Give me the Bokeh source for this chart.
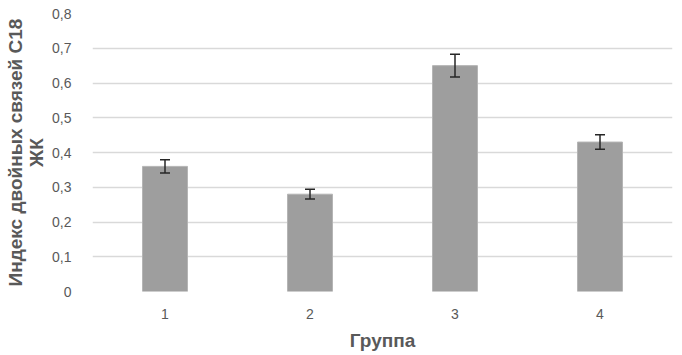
from bokeh.plotting import figure
from bokeh.models import ColumnDataSource, Whisker, FixedTicker, Range1d
from bokeh.embed import file_html
from bokeh.resources import INLINE

groups = [1, 2, 3, 4]
group_labels = ["1", "2", "3", "4"]
values = [0.36, 0.28, 0.65, 0.43]
errors = [0.019, 0.014, 0.033, 0.021]
y_ticks = [0, 0.1, 0.2, 0.3, 0.4, 0.5, 0.6, 0.7, 0.8]
y_tick_labels = ["0", "0,1", "0,2", "0,3", "0,4", "0,5", "0,6", "0,7", "0,8"]

src = ColumnDataSource(dict(
    x=groups, top=values,
    upper=[v + e for v, e in zip(values, errors)],
    lower=[v - e for v, e in zip(values, errors)],
))

p = figure(width=682, height=355, output_backend="svg", toolbar_location=None,
           x_range=Range1d(0.5, 4.5), y_range=Range1d(0, 0.8),
           min_border_left=92, min_border_right=10, min_border_top=13, min_border_bottom=64)
p.outline_line_color = None
p.background_fill_color = "white"

p.vbar(x="x", top="top", width=0.31, source=src, fill_color="#9e9e9e",
       line_color="#b4b4b4", line_width=1)
w = Whisker(base="x", upper="upper", lower="lower", source=src,
            line_color="#262626", line_width=1.5, level="overlay")
w.upper_head.size = 10
w.lower_head.size = 10
w.upper_head.line_color = "#262626"
w.lower_head.line_color = "#262626"
w.upper_head.line_width = 1.5
w.lower_head.line_width = 1.5
p.add_layout(w)

p.xgrid.grid_line_color = None
p.ygrid.grid_line_color = "#d9d9d9"
p.ygrid.grid_line_width = 1.5
p.ygrid.ticker = FixedTicker(ticks=y_ticks)

p.yaxis.ticker = FixedTicker(ticks=y_ticks)
p.yaxis.major_label_overrides = {t: l for t, l in zip(y_ticks, y_tick_labels)}
p.xaxis.ticker = FixedTicker(ticks=groups)
p.xaxis.major_label_overrides = {g: l for g, l in zip(groups, group_labels)}

for ax in (p.xaxis[0], p.yaxis[0]):
    ax.axis_line_color = None
    ax.major_tick_line_color = None
    ax.minor_tick_line_color = None
    ax.major_label_text_font = "Liberation Sans"
    ax.major_label_text_font_size = "14px"
    ax.major_label_text_color = "#595959"
    ax.axis_label_text_font = "Liberation Sans"
    ax.axis_label_text_font_style = "bold"
    ax.axis_label_text_font_size = "19px"
    ax.axis_label_text_color = "#595959"

p.yaxis.axis_label_text_line_height = 1.0
p.yaxis.major_label_standoff = 15
p.xaxis.major_label_standoff = 11
p.xaxis.axis_label = "Группа"
p.xaxis.axis_label_standoff = 8
p.yaxis.axis_label = "Индекс двойных связей С18\nЖК"
p.yaxis.axis_label_standoff = 2

open("out.html", "w").write(file_html(p, INLINE))
